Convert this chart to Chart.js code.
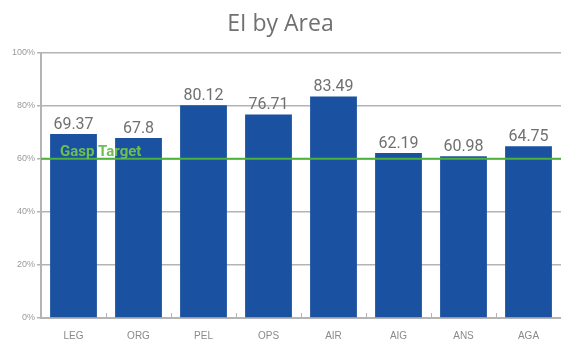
<!DOCTYPE html>
<html>
<head>
<meta charset="utf-8">
<script src="https://cdn.jsdelivr.net/npm/chart.js@4"></script>
<style>
  html, body { margin: 0; padding: 0; background: #fff; }
  #wrap { width: 561px; height: 342px; }
</style>
</head>
<body>
<div id="wrap"><canvas id="areaChart" width="561" height="342"></canvas></div>
<script>
const areas = ["LEG", "ORG", "PEL", "OPS", "AIR", "AIG", "ANS", "AGA"];
const eiValues = [69.37, 67.8, 80.12, 76.71, 83.49, 62.19, 60.98, 64.75];
const yTicks = [0, 20, 40, 60, 80, 100];
const targetValue = 60;
const targetLabel = "Gasp Target";

// value labels, target line and the little upward ticks on the x axis
const extras = {
  id: "extras",
  afterDatasetsDraw(chart) {
    const ctx = chart.ctx;
    const x = chart.scales.x;
    const y = chart.scales.y;
    const area = chart.chartArea;
    const meta = chart.getDatasetMeta(0);

    ctx.save();
    // ticks between categories
    ctx.strokeStyle = "#b4b4b4";
    ctx.lineWidth = 1;
    for (let i = 0; i < areas.length - 1; i++) {
      const px = Math.round((x.getPixelForValue(i) + x.getPixelForValue(i + 1)) / 2) + 0.5;
      ctx.beginPath();
      ctx.moveTo(px, area.bottom);
      ctx.lineTo(px, area.bottom - 5);
      ctx.stroke();
    }

    // value labels
    ctx.fillStyle = "#707070";
    ctx.font = "16px Roboto";
    ctx.textAlign = "center";
    ctx.textBaseline = "alphabetic";
    meta.data.forEach((bar, i) => {
      ctx.fillText(String(eiValues[i]), bar.x, bar.y - 5);
    });

    // target line
    const ty = y.getPixelForValue(targetValue);
    ctx.strokeStyle = "#4cb23a";
    ctx.lineWidth = 2;
    ctx.beginPath();
    ctx.moveTo(area.left, ty);
    ctx.lineTo(area.right, ty);
    ctx.stroke();

    ctx.fillStyle = "#6cc052";
    ctx.font = "bold 15px Roboto";
    ctx.textAlign = "left";
    ctx.fillText(targetLabel, area.left + 19, ty - 3);
    ctx.restore();
  }
};

new Chart(document.getElementById("areaChart"), {
  type: "bar",
  data: {
    labels: areas,
    datasets: [{
      label: "EI",
      data: eiValues,
      backgroundColor: "#1a51a0",
      borderWidth: 0
    }]
  },
  options: {
    responsive: false,
    animation: false,
    layout: { padding: 0 },
    plugins: {
      legend: { display: false },
      tooltip: { enabled: false },
      title: {
        display: true,
        text: "EI by Area",
        color: "#707070",
        font: { family: "'Open Sans'", size: 23, weight: "normal" },
        padding: { top: 11, bottom: 14 }
      }
    },
    scales: {
      x: {
        afterFit(scale) { scale.height = 24; },
        grid: { display: false, drawTicks: false },
        border: { color: "#b4b4b4", width: 2 },
        ticks: {
          color: "#8a8a8a",
          font: { family: "'Liberation Sans'", size: 10 },
          padding: 12
        }
      },
      y: {
        min: 0,
        max: 100,
        afterBuildTicks(scale) {
          scale.ticks = yTicks.map(v => ({ value: v }));
        },
        afterFit(scale) { scale.width = 41; },
        grid: { color: "#b4b4b4", lineWidth: 1.5, tickLength: 4 },
        border: { color: "#b4b4b4", width: 2 },
        ticks: {
          color: "#9a9a9a",
          font: { family: "'Liberation Sans'", size: 9 },
          padding: 2,
          callback: v => v + "%"
        }
      }
    }
  },
  plugins: [extras]
});
</script>
</body>
</html>
